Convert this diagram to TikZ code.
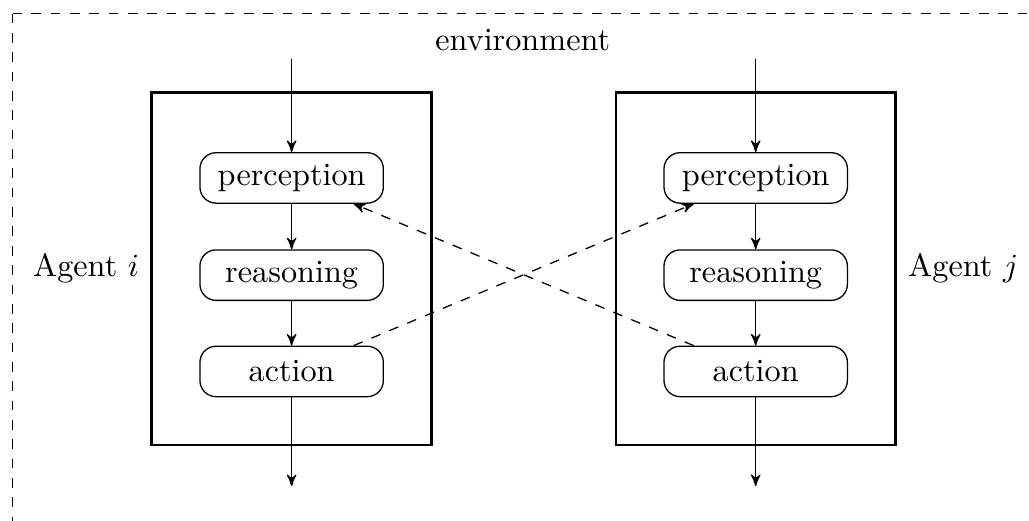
\documentclass[tikz,border=0pt]{standalone}
\usepackage{amssymb}
\usepackage{tikz}
\usetikzlibrary{shapes,arrows,positioning}
\tikzset{node distance = 2cm}
\tikzset{stage/.style={draw, rounded corners=5pt, minimum width=2cm, minimum height=0.55cm},
	agentbox/.style={draw, thick, minimum width=3.05cm, minimum height=3.84cm},
	flow/.style={->, >=stealth'},
	talk/.style={->, >=stealth', dashed}}

\begin{document}
\begin{tikzpicture}
	\useasboundingbox (0,0) rectangle (11.22,-5.68);
	\clip (0,0) rectangle (11.22,-5.68);
	\draw[dashed] (0.14,-0.15) rectangle (12,-7);
	\node (env) at (5.70,-0.44) {environment};
	% agent i
	\node[agentbox] (AI) at (3.18,-2.93) {};
	\node[left=0pt of AI] (LI) {Agent $i$};
	\node[stage] (PI) at (3.18,-1.94) {perception};
	\node[stage] (RI) at (3.18,-3.00) {reasoning};
	\node[stage] (CI) at (3.18,-4.05) {action};
	\coordinate (inI) at (3.18,-0.64);
	\coordinate (outI) at (3.18,-5.30);
	% agent j
	\node[agentbox] (AJ) at (8.24,-2.93) {};
	\node[right=0pt of AJ] (LJ) {Agent $j$};
	\node[stage] (PJ) at (8.24,-1.94) {perception};
	\node[stage] (RJ) at (8.24,-3.00) {reasoning};
	\node[stage] (CJ) at (8.24,-4.05) {action};
	\coordinate (inJ) at (8.24,-0.64);
	\coordinate (outJ) at (8.24,-5.30);
	\draw[flow] (inI) -- (PI);
	\draw[flow] (PI) -- (RI);
	\draw[flow] (RI) -- (CI);
	\draw[flow] (CI) -- (outI);
	\draw[flow] (inJ) -- (PJ);
	\draw[flow] (PJ) -- (RJ);
	\draw[flow] (RJ) -- (CJ);
	\draw[flow] (CJ) -- (outJ);
	\draw[talk] (CI) -- (PJ);
	\draw[talk] (CJ) -- (PI);
\end{tikzpicture}
\end{document}
